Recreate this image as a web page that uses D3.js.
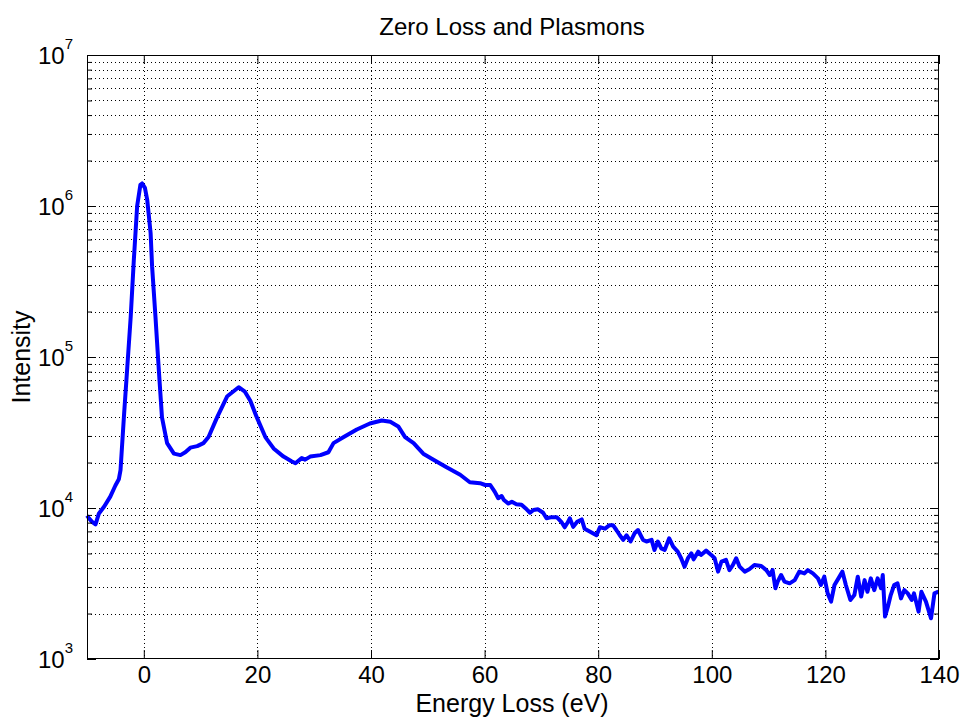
<!DOCTYPE html>
<html>
<head>
<meta charset="utf-8">
<script src="https://cdn.jsdelivr.net/npm/d3@7"></script>
<style>
  body { margin: 0; background: #fff; }
  text { font-family: "Liberation Sans", Arial, sans-serif; fill: #000; }
</style>
</head>
<body>
<div id="viz"></div>
<script>
// spectrum
const energy = [-10.0, -9.6, -9.1, -8.5, -7.9, -7.0, -5.9, -5.0, -4.4, -4.1, -3.5, -2.9, -2.3, -1.76, -1.17,
  -0.6, -0.3, 0.2, 0.6, 1.2, 1.46, 2.05, 2.6, 3.2, 4.1, 5.3, 6.45, 7.3, 8.2, 9.4, 10.5, 11.4, 12.9, 14.7,
  16.7, 17.8, 18.75, 19.9, 21.4, 22.85, 24.6, 26.0, 26.7, 27.8, 28.4, 29.3, 31.1, 32.5, 33.4, 35.2, 37.5,
  39.8, 41.9, 43.4, 44.8, 46.0, 47.5, 49.2, 51.0, 53.3, 55.7, 57.4,
  59.2, 60.1, 61.0, 61.8, 62.4, 63.0, 63.4, 64.2, 64.8, 65.6, 66.5, 67.4, 68.0, 68.6, 69.4, 70.3, 70.9,
  71.8, 72.7, 73.5, 74.1, 74.7, 75.0, 75.6, 76.3, 77.1, 77.6, 78.5, 79.7, 80.3, 81.2, 82.0, 82.6, 83.2,
  83.8, 84.4, 85.0, 85.7, 86.4, 87.0, 87.9, 88.5, 89.4, 89.9, 90.5, 91.1, 91.7, 92.5, 93.2, 94.0, 94.6,
  95.2, 95.8, 96.4, 96.8, 97.6, 98.1, 99.0, 99.9,
  100.5, 101.1, 101.7, 102.5, 103.1, 103.7, 104.3, 104.9, 105.8, 106.6, 107.5, 108.7, 109.6, 110.2, 110.7,
  111.2, 111.6, 112.2, 112.8, 113.7, 114.6, 115.4, 116.3, 116.9, 117.8, 118.7, 119.2, 119.8, 120.4, 121.0,
  121.6, 122.3, 123.0, 123.6, 124.4, 125.1, 125.7, 126.3, 126.9, 127.4, 128.0, 128.6, 129.2, 129.8, 130.1,
  130.5, 131.0, 131.5, 132.1, 132.7, 133.3, 133.9, 134.5, 135.2, 135.6, 136.4, 136.9, 137.7, 138.6, 139.2, 139.9];
const intensity = [8900, 8500, 8100, 7800, 9200, 10200, 11900, 14100, 15500, 17800, 40300, 86300, 186000, 437000, 1000000,
  1380000, 1410000, 1320000, 1100000, 661000, 398000, 186000, 87100, 39800, 26900, 22900, 22400, 23400, 25100, 25700, 26900, 29500, 39800, 55000,
  63100, 58900, 51300, 39800, 29500, 24800, 21900, 20400, 19800, 21400, 20900, 21900, 22400, 23400, 26900, 29500, 33100,
  36300, 38000, 37200, 34700, 29500, 26900, 22900, 20900, 18600, 16600, 14800,
  14600, 14200, 14200, 12800, 11600, 12000, 11300, 10700, 11000, 10600, 10500, 9800, 9300, 9700, 9800, 9300, 8550,
  8700, 8700, 8100, 7450, 8100, 8550, 7500, 8100, 8400, 7300, 7000, 6600, 7450, 7300, 7700, 7700, 7150,
  6600, 6150, 6600, 6000, 6800, 7150, 6150, 6000, 6150, 5270, 6000, 5400, 5270, 6300, 5550, 5140, 4650,
  4090, 4650, 5010, 4570, 5140, 4890, 5220, 4890,
  4650, 3790, 4410, 4530, 3880, 4190, 4650, 4090, 3790, 3930, 4190, 4130, 3880, 3600, 3880,
  2940, 3250, 3600, 3250, 3170, 3330, 3790, 3690, 3880, 3690, 3420, 3090, 3510, 2720, 2400,
  3090, 3420, 3790, 3090, 2460, 2650, 3510, 2590, 3330, 2790, 3420, 2860, 3420, 2940, 3600,
  1910, 2220, 2650, 3090, 3170, 2520, 2860, 2720, 2460, 2720, 2060, 2790, 2400, 1860, 2720, 2790];

const xTicks = [0, 20, 40, 60, 80, 100, 120, 140];
const yExponents = [3, 4, 5, 6, 7];

const width = 962, height = 720;
const margin = { top: 55, right: 23, bottom: 61, left: 87 };

const svg = d3.select("#viz").append("svg")
  .attr("width", width).attr("height", height);

const x = d3.scaleLinear().domain([-10, 140]).range([margin.left, width - margin.right]);
const y = d3.scaleLog().domain([1e3, 1e7]).range([height - margin.bottom, margin.top]);

// grid values: every 1..9 x 10^k inside the box
let yGrid = [];
for (let k = 3; k < 7; k++) {
  for (let m = 1; m < 10; m++) yGrid.push(m * Math.pow(10, k));
}
let yMinor = yGrid.filter(v => !yExponents.includes(Math.round(Math.log10(v) * 1000) / 1000));

const grid = svg.append("g")
  .attr("stroke", "#000").attr("stroke-width", 1).attr("stroke-dasharray", "1,3");
grid.selectAll(".hg").data(yGrid.slice(1)).join("line")
  .attr("x1", margin.left).attr("x2", width - margin.right)
  .attr("y1", d => Math.round(y(d)) + 0.5).attr("y2", d => Math.round(y(d)) + 0.5);
grid.selectAll(".vg").data(xTicks.slice(0, -1)).join("line")
  .attr("y1", margin.top).attr("y2", height - margin.bottom)
  .attr("x1", d => Math.round(x(d)) + 0.5).attr("x2", d => Math.round(x(d)) + 0.5);

// the spectrum
const line = d3.line().x((d, i) => x(energy[i])).y(d => y(d));
svg.append("path")
  .datum(intensity)
  .attr("fill", "none")
  .attr("stroke", "#0000ff")
  .attr("stroke-width", 4)
  .attr("stroke-linejoin", "round")
  .attr("d", line);

// axes, ticks inward on all four sides
function styleAxis(g) {
  g.select(".domain").remove();
  g.selectAll("line").attr("stroke", "#000");
}

svg.append("g")
  .attr("transform", `translate(0,${height - margin.bottom})`)
  .call(d3.axisBottom(x).tickValues(xTicks).tickSizeInner(-9).tickSizeOuter(0).tickPadding(7))
  .call(styleAxis)
  .call(g => g.selectAll("text").attr("font-size", 24).attr("font-family", "Liberation Sans, Arial"));

svg.append("g")
  .attr("transform", `translate(0,${margin.top})`)
  .call(d3.axisTop(x).tickValues(xTicks).tickSizeInner(-9).tickSizeOuter(0).tickFormat(""))
  .call(styleAxis);

const yMajor = yExponents.map(e => Math.pow(10, e));

svg.append("g")
  .attr("transform", `translate(${margin.left},0)`)
  .call(d3.axisLeft(y).tickValues(yMajor).tickSizeInner(-9).tickSizeOuter(0).tickFormat(""))
  .call(styleAxis);
svg.append("g")
  .attr("transform", `translate(${margin.left},0)`)
  .call(d3.axisLeft(y).tickValues(yMinor).tickSizeInner(-5).tickSizeOuter(0).tickFormat(""))
  .call(styleAxis);
svg.append("g")
  .attr("transform", `translate(${width - margin.right},0)`)
  .call(d3.axisRight(y).tickValues(yMajor).tickSizeInner(-9).tickSizeOuter(0).tickFormat(""))
  .call(styleAxis);
svg.append("g")
  .attr("transform", `translate(${width - margin.right},0)`)
  .call(d3.axisRight(y).tickValues(yMinor).tickSizeInner(-5).tickSizeOuter(0).tickFormat(""))
  .call(styleAxis);

// y tick labels as 10^n
const yl = svg.append("g").selectAll("text").data(yExponents).join("text")
  .attr("x", 73)
  .attr("y", d => y(Math.pow(10, d)) + 9)
  .attr("text-anchor", "end")
  .attr("font-size", 24);
yl.append("tspan").text("10");
yl.append("tspan").text(d => d).attr("font-size", 15).attr("dy", -15);

// box
svg.append("rect")
  .attr("x", margin.left + 0.5).attr("y", margin.top + 0.5)
  .attr("width", width - margin.left - margin.right - 1)
  .attr("height", height - margin.top - margin.bottom - 1)
  .attr("fill", "none").attr("stroke", "#000").attr("stroke-width", 1);

svg.append("text")
  .attr("x", 512).attr("y", 35)
  .attr("text-anchor", "middle").attr("font-size", 24)
  .text("Zero Loss and Plasmons");

svg.append("text")
  .attr("x", 512).attr("y", 712)
  .attr("text-anchor", "middle").attr("font-size", 25)
  .text("Energy Loss (eV)");

svg.append("text")
  .attr("transform", "translate(30,357) rotate(-90)")
  .attr("text-anchor", "middle").attr("font-size", 25)
  .text("Intensity");
</script>
</body>
</html>
